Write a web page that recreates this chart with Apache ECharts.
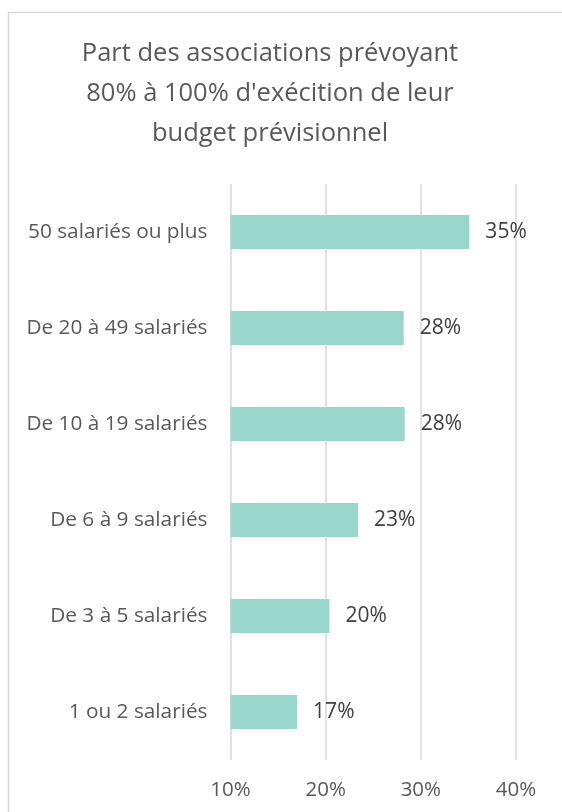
<!DOCTYPE html>
<html><head><meta charset="utf-8">
<script src="https://cdn.jsdelivr.net/npm/echarts@6/dist/echarts.min.js"></script>
<style>html,body{margin:0;padding:0;background:#fff}#c{width:562px;height:812px}</style>
</head><body><div id="c"></div>
<script>
const categories = ["1 ou 2 salariés","De 3 à 5 salariés","De 6 à 9 salariés","De 10 à 19 salariés","De 20 à 49 salariés","50 salariés ou plus"];
const values = [17.0, 20.4, 23.4, 28.3, 28.2, 35.1];
const xTicks = [10, 20, 30, 40];
const titleText = "Part des associations prévoyant\n80% à 100% d'exécition de leur\nbudget prévisionnel";
const FONT = "Open Sans";
const chart = echarts.init(document.getElementById('c'));
chart.setOption({
  animation:false,
  backgroundColor:'#fff',
  graphic:[
    {type:'rect',shape:{x:8.5,y:12.5,width:600,height:900},style:{fill:'none',stroke:'#d9d9d9',lineWidth:1.5},silent:true},
    {type:'text',x:270,y:34,style:{text:titleText,fontFamily:FONT,fontSize:25.5,fill:'#595959',lineHeight:40,align:'center',verticalAlign:'top'},silent:true}
  ],
  grid:{left:230.5,right:46,top:184,bottom:52,containLabel:false},
  xAxis:{type:'value',min:xTicks[0],max:xTicks[xTicks.length-1],interval:10,
    axisLine:{show:false},axisTick:{show:false},
    splitLine:{show:true,lineStyle:{color:'#d9d9d9',width:1.5}},
    axisLabel:{margin:20,fontFamily:FONT,fontSize:20.5,color:'#595959',formatter:v=>v+'%'}},
  yAxis:{type:'category',data:categories,
    axisLine:{show:false},axisTick:{show:false},
    axisLabel:{margin:23,fontFamily:FONT,fontSize:20.8,color:'#595959'}},
  series:[{type:'bar',data:values,barWidth:34,
    itemStyle:{color:'#99d6cc'},
    label:{show:true,position:'right',distance:16,fontFamily:FONT,fontSize:21,color:'#404040',formatter:p=>Math.round(p.value)+'%'}}]
});
</script></body></html>
